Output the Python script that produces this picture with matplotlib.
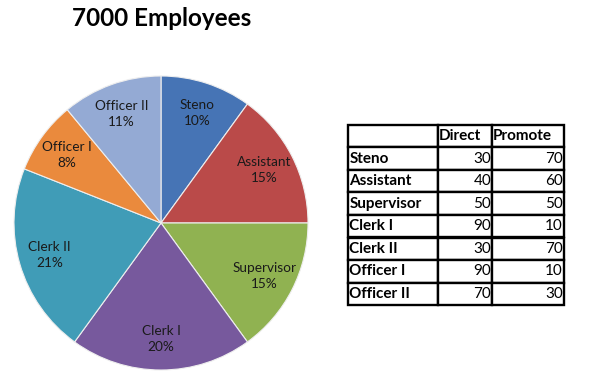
import matplotlib
matplotlib.use("Agg")
import matplotlib.pyplot as plt

categories = ["Steno", "Assistant", "Supervisor", "Clerk I", "Clerk II", "Officer I", "Officer II"]
shares = [10, 15, 15, 20, 21, 8, 11]
direct = [30, 40, 50, 90, 30, 90, 70]
promote = [70, 60, 50, 10, 70, 10, 30]
col_labels = ["", "Direct", "Promote"]
title = "7000 Employees"
colors = ["#4674B5", "#BA4A49", "#90B251", "#77599D", "#409CB7", "#EA8A3D", "#94AAD4"]

plt.rcParams['font.family'] = ['Lato', 'DejaVu Sans']

fig = plt.figure(figsize=(5.92, 3.80), dpi=100)
W, H = 592, 380

# Pie
cx, cy, r = 161, 223, 147
ax = fig.add_axes([(cx - r) / W, (H - cy - r) / H, 2 * r / W, 2 * r / H])
labels = [f"{c}\n{s}%" for c, s in zip(categories, shares)]
ax.pie(shares, labels=labels, colors=colors, startangle=90, counterclock=False,
       labeldistance=0.79, radius=1.0,
       wedgeprops=dict(edgecolor="#eeeeee", linewidth=0.8),
       textprops=dict(ha="center", va="center", fontsize=9.8, color="#1a1a1a", linespacing=1.4))
ax.set_xlim(-1, 1)
ax.set_ylim(-1, 1)
ax.set_aspect("auto")
ax.axis("off")

fig.text(162 / W, 1 - 19 / H, title, ha="center", va="center", fontsize=17.5, fontweight="bold")

# Table
tl, tr, tt, tb = 348, 564, 125, 305
tax = fig.add_axes([tl / W, (H - tb) / H, (tr - tl) / W, (tb - tt) / H])
tax.axis("off")
cell_text = [col_labels] + [[c, str(d), str(p)] for c, d, p in zip(categories, direct, promote)]
tw = tr - tl
table = tax.table(cellText=cell_text, bbox=[0, 0, 1, 1],
                  colWidths=[90 / tw, 54 / tw, 72 / tw])
table.auto_set_font_size(False)
for (row, col), cell in table.get_celld().items():
    cell.set_linewidth(1.7)
    cell.set_edgecolor("black")
    cell.PAD = 0.015
    txt = cell.get_text()
    txt.set_fontsize(11)
    if row == 0 or col == 0:
        txt.set_fontweight("bold")
        cell.set_text_props(ha="left")
    else:
        cell.set_text_props(ha="right")

fig.savefig("out.png", dpi=100)
